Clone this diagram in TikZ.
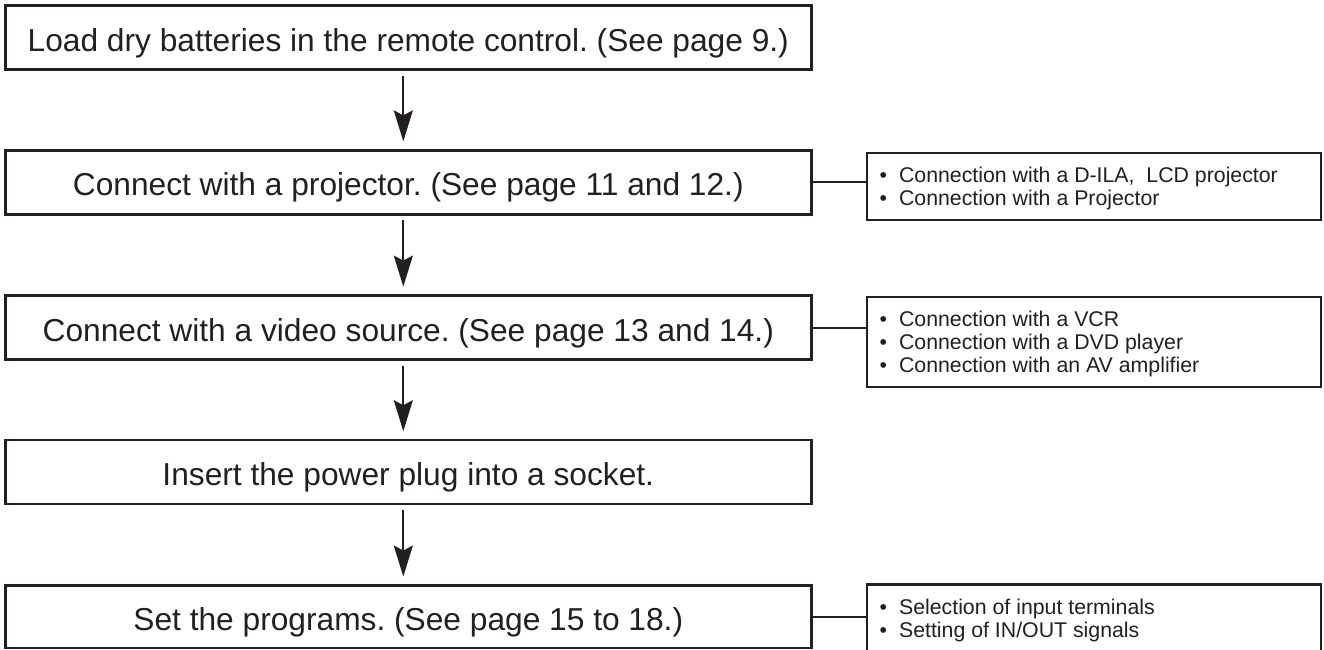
\documentclass[tikz,border=0pt]{standalone}
\usepackage{fontspec}
\setmainfont{Liberation Sans}
\usetikzlibrary{arrows.meta}
\definecolor{ink}{HTML}{231F20}
\newcommand\sidebul{•\hspace{12pt}}
\begin{document}
\frenchspacing
\begin{tikzpicture}[x=1pt,y=-1pt,
  mainbox/.style={draw=ink, line width=2.4pt, minimum width=806pt, minimum height=64pt,
    inner sep=0pt, outer sep=0pt, text height=29pt, text depth=2pt,
    font=\fontsize{31.7}{38}\selectfont, text=ink},
  sidebox/.style={draw=ink, line width=2.2pt, minimum width=453.7pt, inner sep=0pt, outer sep=0pt},
  sideline/.style={anchor=base west, inner sep=0pt, outer sep=0pt,
    font=\fontsize{21.3}{24}\selectfont, text=ink},
  flow/.style={draw=ink, line width=2pt, -{Stealth[length=31pt,width=19pt,inset=5pt]},
    shorten <=6pt, shorten >=9pt},
  link/.style={draw=ink, line width=2pt}]
\useasboundingbox (0,0) rectangle (1324,649);
\coordinate (ax) at (403.3,0);
% main steps
\node[mainbox] (b1) at (408.3,37.5) {Load dry batteries in the remote control. (See page 9.)};
\node[mainbox] (b2) at (408.3,182.4) {Connect with a projector. (See page 11 and 12.)};
\node[mainbox] (b3) at (408.3,327.6) {Connect with a video source. (See page 13 and 14.)};
\node[mainbox] (b4) at (408.3,472.2) {Insert the power plug into a socket.};
\node[mainbox, minimum height=62.5pt] (b5) at (408.3,616.8) {Set the programs. (See page 15 to 18.)};
% side boxes
\node[sidebox, minimum height=67.3pt] (s1) at (1094.2,186.3) {};
\node[sidebox, minimum height=90.3pt] (s2) at (1094.2,341.8) {};
\node[sidebox, minimum height=67.3pt] (s3) at (1094.2,618.2) {};
% side texts
\node[sideline] (s1a) at (879.6,182.2) {\sidebul Connection with a D-ILA,\ \ LCD projector};
\node[sideline] (s1b) at (879.6,205.5) {\sidebul Connection with a Projector};
\node[sideline] (s2a) at (879.6,326.2) {\sidebul Connection with a VCR};
\node[sideline] (s2b) at (879.6,349.5) {\sidebul Connection with a DVD player};
\node[sideline] (s2c) at (879.6,372.8) {\sidebul Connection with an AV amplifier};
\node[sideline] (s3a) at (879.6,614.0) {\sidebul Selection of input terminals};
\node[sideline] (s3b) at (879.6,637.3) {\sidebul Setting of IN/OUT signals};
% arrows
\draw[flow] (b1.south -| ax) -- (b2.north -| ax);
\draw[flow] (b2.south -| ax) -- (b3.north -| ax);
\draw[flow] (b3.south -| ax) -- (b4.north -| ax);
\draw[flow] (b4.south -| ax) -- (b5.north -| ax);
% connectors
\draw[link] (b2.east) -- (b2.east -| s1.west);
\draw[link] (b3.east) -- (b3.east -| s2.west);
\draw[link] (b5.east) -- (b5.east -| s3.west);
\end{tikzpicture}
\end{document}
